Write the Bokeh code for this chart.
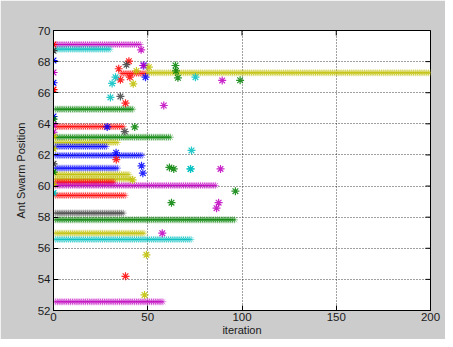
import math
from bokeh.plotting import figure
from bokeh.models import FixedTicker, ColumnDataSource
from bokeh.embed import file_html
from bokeh.resources import INLINE

# MATLAB default colour order
COLORS = {
    "b": "#0000ff", "g": "#008000", "r": "#ff0000", "c": "#00bfbf",
    "m": "#bf00bf", "y": "#bfbf00", "k": "#404040",
}

# Horizontal runs of stars: colour, position, first iteration, last iteration
band_color = ["m", "c", "g", "r", "g", "y", "b", "b", "b", "y", "y", "r", "m", "r",
              "k", "g", "y", "c", "m", "r", "y"]
band_level = [69.1, 68.8, 64.94, 63.82, 63.14, 62.8, 62.54, 61.97, 61.15, 60.75, 60.45,
              60.25, 60.04, 59.4, 58.26, 57.83, 56.97, 56.57, 52.56, 67.24, 67.28]
band_start = [1, 1, 1, 1, 1, 1, 1, 1, 1, 1, 1, 1, 1, 1, 1, 1, 1, 1, 1, 36, 50]
band_end = [46, 30, 42, 37, 62, 34, 28, 47, 34, 40, 41, 32, 86, 38, 37, 96, 48, 73, 58, 49, 200]

# Initial positions (iteration 0)
start_color = ["r", "k", "b", "m", "b", "r", "b", "g", "m", "m", "y", "y", "k", "g", "y", "c"]
start_level = [69.1, 68.7, 68.07, 67.3, 66.64, 66.2, 64.47, 64.3, 63.94, 63.46, 63.19,
               62.4, 61.43, 60.9, 60.1, 59.55]

# Scattered single stars
pt_color = ["m", "r", "r", "r", "r", "k", "k", "c", "c", "c", "c", "c", "b", "b", "y", "y",
            "y", "g", "g", "g", "m", "m", "g", "r", "c", "g", "b", "b", "r", "b", "b",
            "g", "g", "c", "m", "y", "m", "g", "g", "m", "m", "m", "y", "r", "y", "k"]
pt_x = [46.5, 40, 34.6, 40.5, 35.5, 38.7, 35.5, 31.1, 32.9, 30.2, 75.3, 73.2, 47.9, 48.8, 42.3, 50.6,
        44, 64.7, 66, 65, 58.5, 47.6, 99, 38.2, 72.7, 43.1, 28.5, 33.2, 33.3, 46.7, 47.4,
        61.5, 63.8, 72.7, 88.6, 42, 89.5, 62.6, 96.5, 87.6, 86.5, 57.7, 49.3, 38.2, 48.3, 37.8]
pt_y = [68.76, 68.03, 67.54, 67.0, 66.83, 67.8, 65.76, 66.6, 67.0, 65.7, 67.0, 62.29, 67.75, 67.0,
        66.57, 67.64, 67.4, 67.75, 66.96, 67.4, 65.18, 67.75, 66.8, 65.33, 61.1, 63.8, 63.8,
        62.14, 61.7, 61.3, 60.83, 61.2, 61.1, 61.1, 61.1, 60.4, 66.79, 58.93, 59.67, 58.93,
        58.58, 56.97, 55.58, 54.2, 53.0, 63.5]

x_ticks = [0, 50, 100, 150, 200]
y_ticks = [52, 54, 56, 58, 60, 62, 64, 66, 68, 70]
X_MIN, X_MAX = 0, 200
Y_MIN, Y_MAX = 52, 70

p = figure(width=445, height=339, x_range=(X_MIN, X_MAX), y_range=(Y_MIN, Y_MAX),
           output_backend="svg", toolbar_location=None,
           min_border_left=53, min_border_right=15, min_border_top=30, min_border_bottom=29)
p.border_fill_color = "#cccccc"
p.background_fill_color = "#ffffff"
p.outline_line_color = "#000000"
p.outline_line_width = 1

FONT = "Liberation Sans"

# grid (dotted, MATLAB style)
p.xgrid.ticker = FixedTicker(ticks=x_ticks)
p.ygrid.ticker = FixedTicker(ticks=y_ticks)
for g in (p.xgrid[0], p.ygrid[0]):
    g.grid_line_color = "#000000"
    g.grid_line_dash = "1 2"
    g.grid_line_alpha = 0.75
    g.grid_line_width = 1

# bands
for c, lvl, s, e in zip(band_color, band_level, band_start, band_end):
    xs = list(range(s, e + 1))
    src = ColumnDataSource(dict(x=xs, y=[lvl] * len(xs)))
    p.scatter("x", "y", source=src, marker="asterisk", size=7, line_color=COLORS[c],
              line_width=1, line_alpha=0.45)

# initial positions
src0 = ColumnDataSource(dict(x=[0] * len(start_level), y=start_level,
                             c=[COLORS[c] for c in start_color]))
p.scatter("x", "y", source=src0, marker="asterisk", size=8, line_color="c", line_width=1.2)

# scattered points
srcp = ColumnDataSource(dict(x=pt_x, y=pt_y, c=[COLORS[c] for c in pt_color]))
p.scatter("x", "y", source=srcp, marker="asterisk", size=8, line_color="c", line_width=1.2,
          line_alpha=0.85)

# box ticks on the right and top edges (half of a centred dash is clipped away)
p.scatter(x=[X_MAX] * len(y_ticks), y=y_ticks, marker="dash", size=10,
          line_color="#000000", line_width=1)
p.scatter(x=x_ticks, y=[Y_MAX] * len(x_ticks), marker="dash", size=10, angle=math.pi / 2,
          line_color="#000000", line_width=1)

for ax in (p.xaxis[0], p.yaxis[0]):
    ax.axis_line_color = "#000000"
    ax.major_tick_in = 5
    ax.major_tick_out = 0
    ax.minor_tick_line_color = None
    ax.major_tick_line_color = "#000000"
    ax.major_label_text_font = FONT
    ax.major_label_text_font_size = "11.5px"
    ax.major_label_text_color = "#1a1a1a"
    ax.axis_label_text_font = FONT
    ax.axis_label_text_font_size = "11px"
    ax.axis_label_text_font_style = "normal"
    ax.axis_label_text_color = "#1a1a1a"

p.xaxis.ticker = FixedTicker(ticks=x_ticks)
p.yaxis.ticker = FixedTicker(ticks=y_ticks)
p.xaxis.axis_label = "iteration"
p.yaxis.axis_label = "Ant Swarm Position"
p.xaxis.major_label_standoff = 2
p.xaxis.axis_label_standoff = 0
p.yaxis.major_label_standoff = 3
p.yaxis.axis_label_standoff = 8

open("out.html", "w").write(file_html(p, INLINE))
